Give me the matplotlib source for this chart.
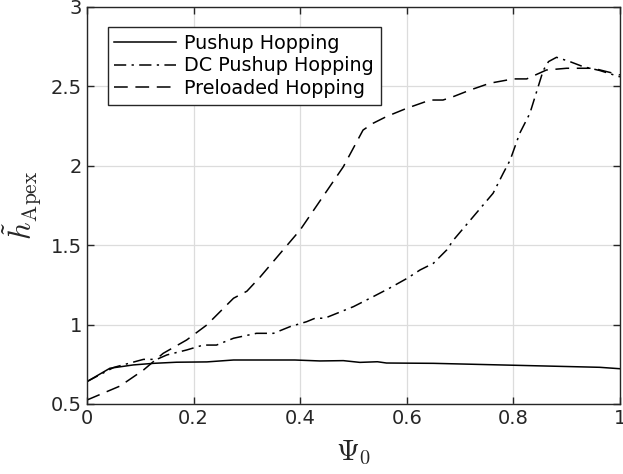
import matplotlib
matplotlib.use("Agg")
import matplotlib.pyplot as plt

plt.rcParams['mathtext.fontset'] = 'cm'
plt.rcParams['font.family'] = 'DejaVu Sans'

# Pushup Hopping
x_push = [0.0, 0.043, 0.087, 0.125, 0.168, 0.225, 0.275, 0.35, 0.39, 0.437,
          0.481, 0.512, 0.545, 0.562, 0.65, 0.80, 0.962, 1.0]
y_push = [0.641, 0.725, 0.746, 0.756, 0.763, 0.765, 0.777, 0.777, 0.777, 0.771,
          0.773, 0.762, 0.766, 0.758, 0.756, 0.744, 0.731, 0.722]

# DC Pushup Hopping
x_dc = [0.0, 0.05, 0.106, 0.131, 0.15, 0.187, 0.218, 0.243, 0.275, 0.318,
        0.35, 0.381, 0.412, 0.428, 0.446, 0.50, 0.537, 0.568, 0.60, 0.625,
        0.65, 0.675, 0.687, 0.762, 0.781, 0.794, 0.812, 0.831, 0.856, 0.866,
        0.881, 0.906, 0.931, 0.962, 1.0]
y_dc = [0.641, 0.73, 0.781, 0.781, 0.809, 0.84, 0.871, 0.871, 0.914, 0.945,
        0.945, 0.987, 1.018, 1.04, 1.04, 1.113, 1.176, 1.23, 1.29, 1.344,
        1.386, 1.47, 1.53, 1.827, 1.953, 2.036, 2.205, 2.33, 2.60, 2.656,
        2.683, 2.656, 2.624, 2.60, 2.56]

# Preloaded Hopping
x_pre = [0.0, 0.062, 0.106, 0.143, 0.187, 0.225, 0.275, 0.30, 0.325, 0.368,
         0.40, 0.481, 0.518, 0.537, 0.562, 0.60, 0.644, 0.668, 0.687, 0.719,
         0.756, 0.80, 0.825, 0.862, 0.90, 0.95, 1.0]
y_pre = [0.525, 0.613, 0.714, 0.819, 0.903, 0.998, 1.166, 1.21, 1.30, 1.47,
         1.596, 1.994, 2.225, 2.268, 2.31, 2.362, 2.414, 2.414, 2.435, 2.477,
         2.52, 2.547, 2.547, 2.603, 2.614, 2.614, 2.572]

labels = ['Pushup Hopping', 'DC Pushup Hopping', 'Preloaded Hopping']

fig = plt.figure(figsize=(6.23, 4.74), dpi=100)
ax = fig.add_axes([0.1396, 0.1477, 0.8555, 0.8376])

ax.plot(x_push, y_push, color='k', lw=1.1, ls='-', label=labels[0])
ax.plot(x_dc, y_dc, color='k', lw=1.1, ls=(0, (8, 3.5, 1.5, 3.5)), label=labels[1])
ax.plot(x_pre, y_pre, color='k', lw=1.1, ls=(0, (9, 5)), label=labels[2])

ax.set_xlim(0, 1)
ax.set_ylim(0.5, 3)
ax.set_xticks([0, 0.2, 0.4, 0.6, 0.8, 1])
ax.set_xticklabels(['0', '0.2', '0.4', '0.6', '0.8', '1'])
ax.set_yticks([0.5, 1, 1.5, 2, 2.5, 3])
ax.set_yticklabels(['0.5', '1', '1.5', '2', '2.5', '3'])
ax.grid(True, color='#dcdcdc', lw=0.9)
ax.set_axisbelow(True)
ax.tick_params(direction='in', top=True, right=True, labelsize=14,
               colors='#262626', length=5, width=1)
for s in ax.spines.values():
    s.set_color('#262626')
    s.set_linewidth(1.0)

ax.set_xlabel(r'$\Psi_0$', fontsize=21, color='#262626', labelpad=8)
ax.set_ylabel(r'$\tilde{h}_{\mathrm{Apex}}$', fontsize=22, color='#262626', labelpad=6)

leg = ax.legend(loc='upper left', bbox_to_anchor=(0.039, 0.95), fontsize=13.8,
                fancybox=False, edgecolor='#262626', framealpha=1,
                handlelength=3.2, handletextpad=0.45, borderpad=0.35,
                labelspacing=0.2, borderaxespad=0)
leg.get_frame().set_linewidth(1.0)

fig.savefig('out.png', dpi=100)
